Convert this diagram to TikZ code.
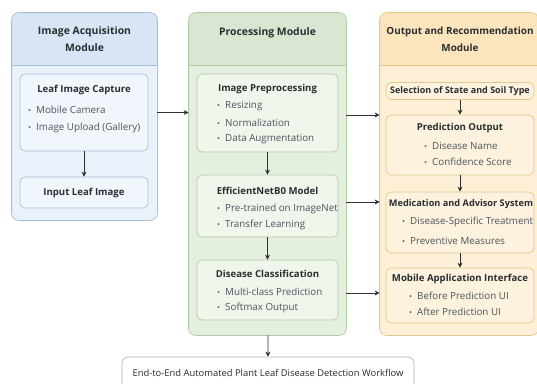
\documentclass[tikz,border=0pt]{standalone}
\usepackage{fontspec}
\setmainfont{Open Sans}
\usetikzlibrary{arrows.meta}

\definecolor{Cacqhead}{HTML}{D7E5F4}
\definecolor{Cacqbody}{HTML}{E9F1FA}
\definecolor{Cacqline}{HTML}{A8BFDB}
\definecolor{Cacqinner}{HTML}{F1F6FC}
\definecolor{Cprochead}{HTML}{D9E7D2}
\definecolor{Cprocbody}{HTML}{E5EFDF}
\definecolor{Cprocline}{HTML}{B3CBA6}
\definecolor{Cprocinner}{HTML}{F0F6EC}
\definecolor{Couthead}{HTML}{FCE5BC}
\definecolor{Coutbody}{HTML}{FDF0D6}
\definecolor{Coutline}{HTML}{E3C78C}
\definecolor{Coutinner}{HTML}{FCF2DE}
\definecolor{Ctitle}{HTML}{2A2D31}
\definecolor{Citem}{HTML}{4C545C}
\definecolor{Carrow}{HTML}{2E2E2E}

\tikzset{
	module/.style={line width=0.8pt, rounded corners=7pt, inner sep=0pt},
	innerbox/.style={line width=0.7pt, rounded corners=5pt, inner sep=0pt},
	acqbox/.style={innerbox, draw=Cacqline, fill=Cacqinner},
	procbox/.style={innerbox, draw=Cprocline, fill=Cprocinner},
	outbox/.style={innerbox, draw=Coutline, fill=Coutinner},
	headtxt/.style={font=\bfseries\fontsize{10.4}{17}\selectfont, text=Ctitle, align=center},
	ttl/.style={font=\bfseries\fontsize{9.6}{11}\selectfont, text=Ctitle},
	item/.style={anchor=west, font=\fontsize{9.8}{11}\selectfont, text=Citem, inner sep=0pt},
	arr/.style={draw=Carrow, line width=0.8pt, -{Stealth[length=5pt,width=5pt]}}
}

\newcommand{\bl}{{\fontsize{8}{8}\selectfont\textbullet}\hspace{5pt}}

\begin{document}
\begin{tikzpicture}[x=1pt,y=-1pt]
	\useasboundingbox (0,0) rectangle (537,383);
	\clip (0,0) rectangle (537,383);

	% image acquisition module
	\node[module, fill=Cacqbody, minimum width=145pt, minimum height=207pt] (acq) at (84.5,116.5) {};
	\fill[Cacqhead] (12,65) [rounded corners=7pt]-- (12,13) -- (157,13) [sharp corners]-- (157,65) -- cycle;
	\draw[Cacqline, line width=0.7pt] (12,65) -- (157,65);
	\draw[module, draw=Cacqline] (acq.south west) rectangle (acq.north east);
	\node[headtxt] (acqhead) at (84.5,39) {Image Acquisition\\Module};

	\node[acqbox, minimum width=128pt, minimum height=77pt] (capture) at (84,112.5) {};
	\node[ttl] (capturettl) at (84,90) {Leaf Image Capture};
	\foreach \t [count=\i] in {Mobile Camera,Image Upload (Gallery)}
		\node[item] (capture\i) at (28,{92+18*\i}) {\bl\t};
	\node[acqbox, minimum width=128pt, minimum height=31pt] (input) at (84,192.5) {};
	\node[ttl] (inputttl) at (input) {Input Leaf Image};
	\draw[arr] (capture) -- (input);

	% processing module
	\node[module, fill=Cprocbody, minimum width=157pt, minimum height=322pt] (proc) at (267.5,174) {};
	\fill[Cprochead] (189,65) [rounded corners=7pt]-- (189,13) -- (346,13) [sharp corners]-- (346,65) -- cycle;
	\draw[Cprocline, line width=0.7pt] (189,65) -- (346,65);
	\draw[module, draw=Cprocline] (proc.south west) rectangle (proc.north east);
	\node[headtxt] (prochead) at (267.5,33) {Processing Module};

	\node[procbox, minimum width=141pt, minimum height=78pt] (pre) at (267.5,113) {};
	\node[ttl] (prettl) at (267.5,89) {Image Preprocessing};
	\foreach \t [count=\i] in {Resizing,Normalization,Data Augmentation}
		\node[item] (pre\i) at (217,{90+16.5*\i}) {\bl\t};

	\node[procbox, minimum width=141pt, minimum height=62pt] (eff) at (267.5,206) {};
	\node[ttl] (effttl) at (267.5,191) {EfficientNetB0 Model};
	\foreach \t [count=\i] in {Pre-trained on ImageNet,Transfer Learning}
		\node[item] (eff\i) at (217,{193+16*\i}) {\bl\t};

	\node[procbox, minimum width=141pt, minimum height=60pt] (cls) at (267.5,290) {};
	\node[ttl] (clsttl) at (267.5,274) {Disease Classification};
	\foreach \t [count=\i] in {Multi-class Prediction,Softmax Output}
		\node[item] (cls\i) at (217,{276+16*\i}) {\bl\t};

	\draw[arr] (pre) -- (eff);
	\draw[arr] (eff) -- (cls);

	% output and recommendation module
	\node[module, fill=Coutbody, minimum width=158pt, minimum height=322pt] (outp) at (459,174) {};
	\fill[Couthead] (380,65) [rounded corners=7pt]-- (380,13) -- (538,13) [sharp corners]-- (538,65) -- cycle;
	\draw[Coutline, line width=0.7pt] (380,65) -- (538,65);
	\draw[module, draw=Coutline] (outp.south west) rectangle (outp.north east);
	\node[headtxt, font=\bfseries\fontsize{9.9}{17}\selectfont] (outhead) at (460,39) {Output and Recommendation\\Module};

	\node[outbox, minimum width=148pt, minimum height=17pt] (sel) at (460,91) {};
	\node[ttl, font=\bfseries\fontsize{9}{10}\selectfont] (selttl) at (sel) {Selection of State and Soil Type};
	\node[outbox, minimum width=148pt, minimum height=60pt] (pred) at (460,145) {};
	\node[ttl] (predttl) at (460,128) {Prediction Output};
	\foreach \t [count=\i] in {Disease Name,Confidence Score}
		\node[item] (pred\i) at (424,{130+16*\i}) {\bl\t};
	\node[outbox, minimum width=148pt, minimum height=61pt] (med) at (460,222.5) {};
	\node[ttl, font=\bfseries\fontsize{9.2}{11}\selectfont] (medttl) at (461,204) {Medication and Advisor System};
	\foreach \t [count=\i] in {Disease-Specific Treatment,Preventive Measures}
		\node[item] (med\i) at (402,{203+19*\i}) {\bl\t};
	\node[outbox, minimum width=148pt, minimum height=55pt] (app) at (460,295.5) {};
	\node[ttl] (appttl) at (460,279) {Mobile Application Interface};
	\foreach \t [count=\i] in {Before Prediction UI,After Prediction UI}
		\node[item] (app\i) at (409,{280+16*\i}) {\bl\t};

	\draw[arr] (sel) -- (pred);
	\draw[arr] (pred) -- (med);
	\draw[arr] (med) -- (app);

	% links between modules
	\draw[arr] (capture.east -| acq.east) -- (capture.east -| proc.west);
	\draw[arr] ([yshift=-2pt]pre.east -| proc.east) -- ([yshift=-2pt]pre.east -| outp.west);
	\draw[arr] ([yshift=4pt]eff.east -| proc.east) -- ([yshift=4pt]eff.east -| outp.west);
	\draw[arr] ([yshift=-3pt]cls.east -| proc.east) -- ([yshift=-3pt]cls.east -| outp.west);

	% workflow caption
	\node[draw=black!30, fill=white, line width=0.7pt, rounded corners=6pt, minimum width=292pt, minimum height=40pt, inner sep=0pt] (foot) at (268,377) {};
	\node[font=\fontsize{9.4}{11}\selectfont, text=Ctitle] (foottxt) at (268,373) {End-to-End Automated Plant Leaf Disease Detection Workflow};
	\draw[arr] (proc) -- (foot);
\end{tikzpicture}
\end{document}
